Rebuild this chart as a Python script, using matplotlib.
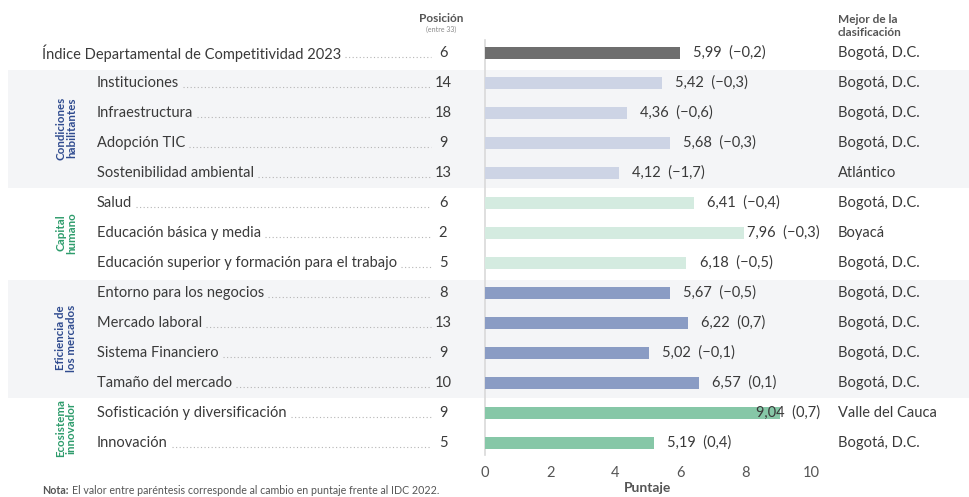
import matplotlib
matplotlib.use("Agg")
import matplotlib.pyplot as plt
from matplotlib.transforms import blended_transform_factory
from matplotlib.patches import Rectangle

plt.rcParams['font.family'] = ['Lato', 'DejaVu Sans']

labels = ["Índice Departamental de Competitividad 2023",
          "Instituciones", "Infraestructura", "Adopción TIC", "Sostenibilidad ambiental",
          "Salud", "Educación básica y media", "Educación superior y formación para el trabajo",
          "Entorno para los negocios", "Mercado laboral", "Sistema Financiero", "Tamaño del mercado",
          "Sofisticación y diversificación", "Innovación"]
posicion = [6, 14, 18, 9, 13, 6, 2, 5, 8, 13, 9, 10, 9, 5]
puntaje = [5.99, 5.42, 4.36, 5.68, 4.12, 6.41, 7.96, 6.18, 5.67, 6.22, 5.02, 6.57, 9.04, 5.19]
cambio = [-0.2, -0.3, -0.6, -0.3, -1.7, -0.4, -0.3, -0.5, -0.5, 0.7, -0.1, 0.1, 0.7, 0.4]
mejor = ["Bogotá, D.C.", "Bogotá, D.C.", "Bogotá, D.C.", "Bogotá, D.C.", "Atlántico",
         "Bogotá, D.C.", "Boyacá", "Bogotá, D.C.", "Bogotá, D.C.", "Bogotá, D.C.",
         "Bogotá, D.C.", "Bogotá, D.C.", "Valle del Cauca", "Bogotá, D.C."]
grupo = [None, "CH", "CH", "CH", "CH", "KH", "KH", "KH", "EM", "EM", "EM", "EM", "EI", "EI"]
grupos = {"CH": "Condiciones\nhabilitantes", "KH": "Capital\nhumano",
          "EM": "Eficiencia de\nlos mercados", "EI": "Ecosistema\ninnovador"}
xticks = [0, 2, 4, 6, 8, 10]

bar_colors = {None: "#6e6e6e", "CH": "#cdd4e5", "KH": "#d4ebe0", "EM": "#8a9cc4", "EI": "#86c7a7"}
group_text_colors = {"CH": "#2f4b8f", "KH": "#2e9c6c", "EM": "#2f4b8f", "EI": "#2e9c6c"}
banded = ["CH", "EM"]

W, H = 969, 497
fig = plt.figure(figsize=(W / 100, H / 100), dpi=100)
ax_left, ax_right = 485, 811
ax_top, ax_bot = 40, 455
ax = fig.add_axes([ax_left / W, 1 - ax_bot / H, (ax_right - ax_left) / W, (ax_bot - ax_top) / H])
ax.patch.set_alpha(0)
n = len(labels)
ax.set_xlim(0, 10)
ax.set_ylim(n - 1 + 0.4, -0.433)

ys = list(range(n))
colors = [bar_colors[g] for g in grupo]
ax.barh(ys, puntaje, height=0.42, color=colors, zorder=3)

for s in ["top", "right", "bottom"]:
    ax.spines[s].set_visible(False)
ax.spines["left"].set_color("#d9d9d9")
ax.spines["left"].set_linewidth(1.2)
ax.set_yticks([])
ax.set_xticks(xticks)
ax.set_xticklabels([str(t) for t in xticks], fontsize=10.5, color="#555555")
ax.tick_params(axis="x", length=0, pad=8)
ax.set_xlabel("Puntaje", fontsize=10, fontweight="bold", color="#555555", labelpad=1)

tr = blended_transform_factory(fig.transFigure, ax.transData)
def fx(px):
    return px / W

txt_col = "#3a3a3a"
fs = 10.5

# background bands
for key in banded:
    idx = [i for i, g in enumerate(grupo) if g == key]
    y0, y1 = min(idx) - 0.42, max(idx) + 0.5
    r = Rectangle((fx(8), y0), fx(969) - fx(8), y1 - y0, transform=tr,
                  facecolor="#f4f5f7", edgecolor="none", zorder=-1)
    fig.add_artist(r)

label_texts = []
value_texts = []
for i in range(n):
    lx = 42 if grupo[i] is None else 97
    t = ax.text(fx(lx), i, labels[i], transform=tr, fontsize=fs, color=txt_col,
                va="center", ha="left")
    label_texts.append(t)
    ax.text(fx(443), i, str(posicion[i]), transform=tr, fontsize=fs, color=txt_col,
            va="center", ha="center")
    ax.text(fx(838), i, mejor[i], transform=tr, fontsize=fs, color=txt_col,
            va="center", ha="left")
    val = f"{puntaje[i]:.2f}".replace(".", ",")
    ch = f"{cambio[i]:.1f}".replace(".", ",").replace("-", "−")
    vt = ax.text(puntaje[i] + 0.4, i, f"{val}  ({ch})", fontsize=fs, color=txt_col,
                 va="center", ha="left", zorder=4)
    value_texts.append(vt)

fig.canvas.draw()
renderer = fig.canvas.get_renderer()

# keep value labels left of the "Mejor" column
for vt in value_texts:
    bb = vt.get_window_extent(renderer)
    if bb.x1 > 822:
        vt.set_ha("right")
        vt.set_x(ax.transData.inverted().transform((820, 0))[0])

# dotted leaders
for i, t in enumerate(label_texts):
    bb = t.get_window_extent(renderer)
    x_end = bb.x1 + 4
    ax.plot([x_end / W, 431 / W], [i + 0.12, i + 0.12], transform=tr, clip_on=False,
            color="#b5b5b5", linestyle=(0, (1, 2.2)), linewidth=0.8)

# group labels
for key, name in grupos.items():
    idx = [i for i, g in enumerate(grupo) if g == key]
    yc = (min(idx) + max(idx)) / 2
    ax.text(fx(66), yc, name, transform=tr, rotation=90, fontsize=8.3, fontweight="bold",
            color=group_text_colors[key], va="center", ha="center", linespacing=0.95)

# headers
fig.text(fx(441), 1 - 18 / H, "Posición", fontsize=8.5, fontweight="bold", color="#555555",
         ha="center", va="center")
fig.text(fx(441), 1 - 29 / H, "(entre 33)", fontsize=5, color="#888888", ha="center", va="center")
fig.text(fx(838), 1 - 26 / H, "Mejor de la\nclasificación", fontsize=8.5, fontweight="bold",
         color="#555555", ha="left", va="center", linespacing=1.15)

nota = fig.text(fx(42), 1 - 491 / H, "Nota:", fontsize=7.7, fontweight="bold", color="#555555",
                ha="left", va="center")
fig.canvas.draw()
nb = nota.get_window_extent(fig.canvas.get_renderer())
fig.text((nb.x1 + 4) / W, 1 - 491 / H,
         "El valor entre paréntesis corresponde al cambio en puntaje frente al IDC 2022.",
         fontsize=7.7, color="#555555", ha="left", va="center")

fig.savefig("out.png", dpi=100)
